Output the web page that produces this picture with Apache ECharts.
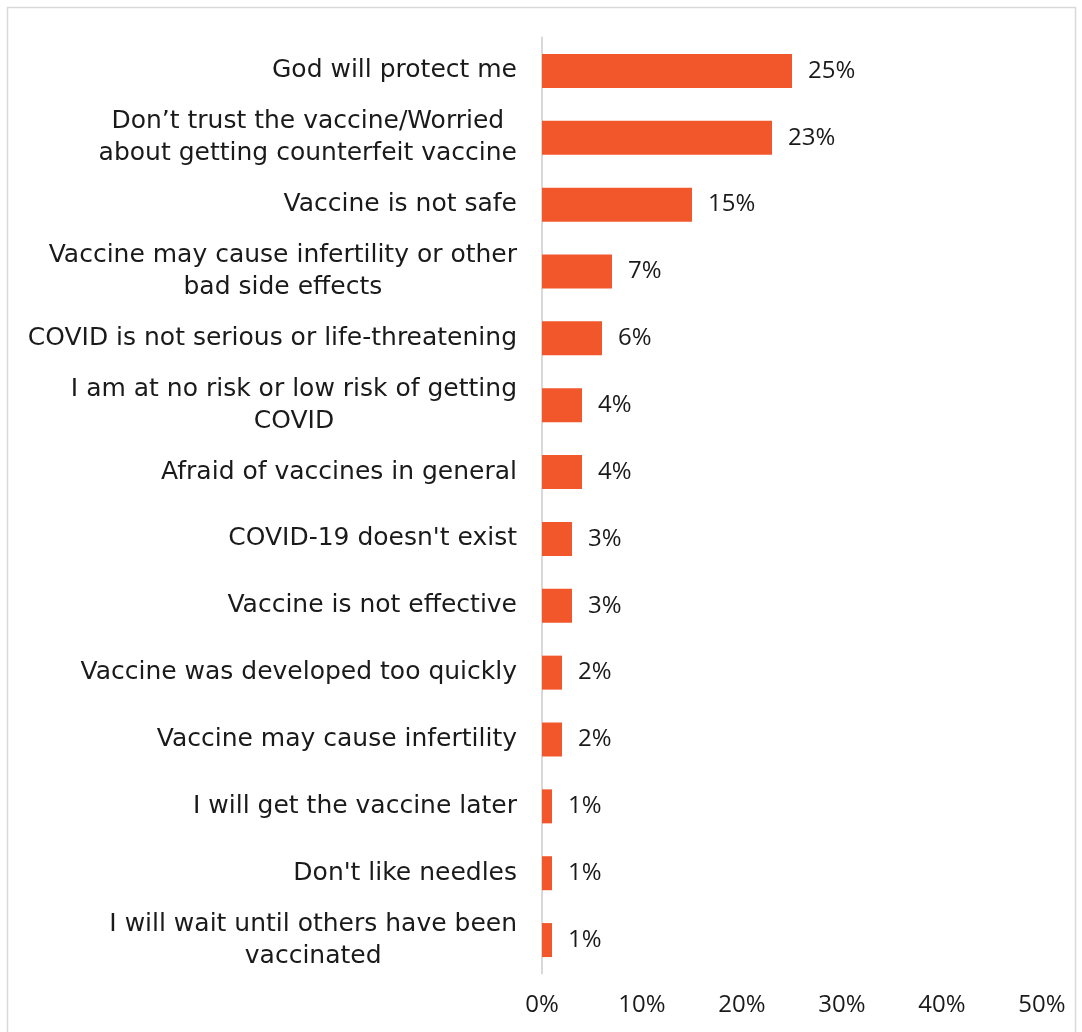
<!DOCTYPE html>
<html>
<head>
<meta charset="utf-8">
<script src="https://cdn.jsdelivr.net/npm/echarts@6/dist/echarts.min.js"></script>
<style>
  html, body { margin: 0; padding: 0; background: #fff; }
  #chart { width: 1082px; height: 1032px; }
</style>
</head>
<body>
<div id="chart"></div>
<script>
// reasons for not getting vaccinated (top to bottom)
const categories = [
  'God will protect me',
  'Don’t trust the vaccine/Worried\nabout getting counterfeit vaccine',
  'Vaccine is not safe',
  'Vaccine may cause infertility or other\nbad side effects',
  'COVID is not serious or life-threatening',
  'I am at no risk or low risk of getting\nCOVID',
  'Afraid of vaccines in general',
  "COVID-19 doesn't exist",
  'Vaccine is not effective',
  'Vaccine was developed too quickly',
  'Vaccine may cause infertility',
  'I will get the vaccine later',
  "Don't like needles",
  'I will wait until others have been\nvaccinated'
]
const values = [25, 23, 15, 7, 6, 4, 4, 3, 3, 2, 2, 1, 1, 1]
const tickLabels = ['0%', '10%', '20%', '30%', '40%', '50%']

const fontFamily = '"Open Sans", sans-serif'
const labelFont = '"DejaVu Sans", sans-serif'
const textColor = '#1a1a1a'

const chart = echarts.init(document.getElementById('chart'))
chart.setOption({
  backgroundColor: '#fff',
  animation: false,
  graphic: [{
    type: 'rect',
    shape: { x: 7.5, y: 7.5, width: 1068, height: 1060 },
    style: { fill: 'none', stroke: '#d9d9d9', lineWidth: 1.5 },
    silent: true
  }],
  grid: {
    left: 542,
    right: 40,
    top: 37.5,
    bottom: 58.5
  },
  xAxis: {
    type: 'value',
    min: 0,
    max: 50,
    interval: 10,
    axisLine: { show: false },
    axisTick: { show: false },
    splitLine: { show: false },
    axisLabel: {
      margin: 20,
      fontSize: 24,
      fontFamily: fontFamily,
      color: textColor,
      formatter: v => tickLabels[Math.round(v / 10)]
    }
  },
  yAxis: {
    type: 'category',
    inverse: true,
    data: categories,
    axisTick: { show: false },
    axisLine: { lineStyle: { color: '#d9d9d9', width: 2 } },
    axisLabel: {
      margin: 25,
      fontSize: 25,
      fontFamily: labelFont,
      color: textColor,
      lineHeight: 32,
      formatter: v => v.split('\n').map(s => '{c|' + s + '}').join('\n'),
      rich: {
        c: {
          align: 'center',
          fontSize: 25,
          lineHeight: 32,
          fontFamily: labelFont,
          color: textColor
        }
      }
    }
  },
  series: [{
    type: 'bar',
    data: values,
    barWidth: 34,
    itemStyle: { color: '#F2572B' },
    label: {
      show: true,
      position: 'right',
      distance: 16,
      fontSize: 24,
      fontFamily: fontFamily,
      color: textColor,
      formatter: p => p.value + '%'
    }
  }]
})
</script>
</body>
</html>
